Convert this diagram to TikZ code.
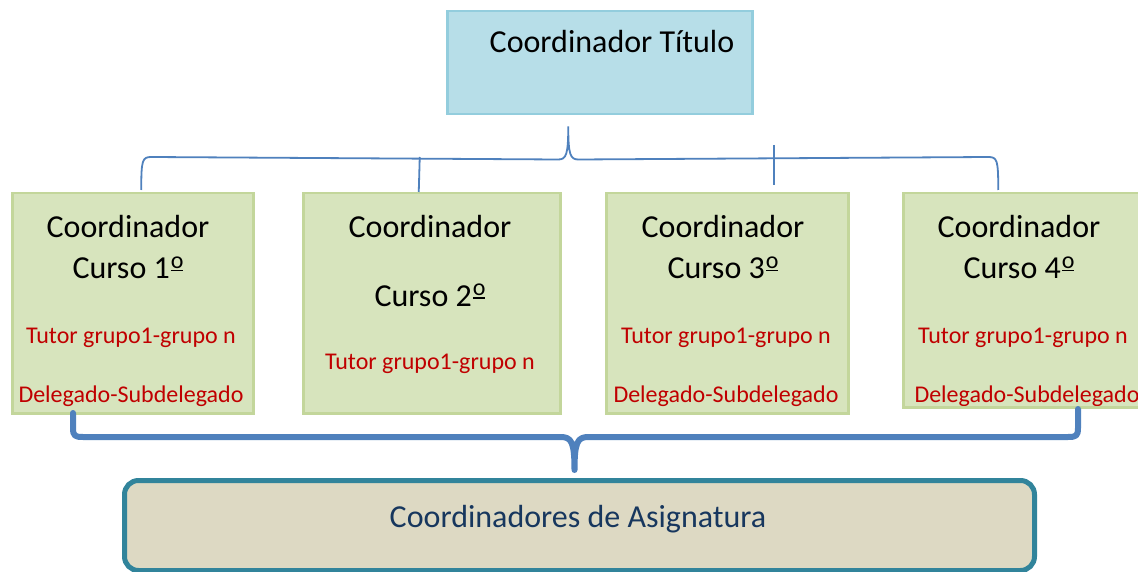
\documentclass[tikz,border=0pt]{standalone}
\usepackage{fontspec}
\setmainfont{Carlito}
\usetikzlibrary{calc}
\definecolor{titlefill}{HTML}{B7DEE8}
\definecolor{titledraw}{HTML}{93CDDD}
\definecolor{greenfill}{HTML}{D7E4BD}
\definecolor{greendraw}{HTML}{C3D69B}
\definecolor{redtxt}{HTML}{C00000}
\definecolor{bracecol}{HTML}{4F81BD}
\definecolor{bottomfill}{HTML}{DDD9C3}
\definecolor{bottomdraw}{HTML}{31849B}
\definecolor{bottomtxt}{HTML}{17375E}
\newcommand{\ordmark}{\kern1pt\makebox[0pt][l]{\rule[7.5pt]{12.6pt}{1.8pt}}\raisebox{10.5pt}{\fontsize{24}{24}\selectfont o}}
\tikzset{
  titlebox/.style={draw=titledraw, fill=titlefill, line width=2.5pt, inner sep=0pt, anchor=north west},
  cursobox/.style={draw=greendraw, fill=greenfill, line width=2.5pt, inner sep=0pt, anchor=north west},
  asigbox/.style={draw=bottomdraw, fill=bottomfill, line width=5pt, rounded corners=14pt, inner sep=0pt, anchor=north west},
  bigtxt/.style={font=\fontsize{32}{38}\selectfont, text=black, inner sep=0pt, anchor=base},
  redt/.style={font=\fontsize{24}{28}\selectfont, text=redtxt, inner sep=0pt, anchor=base},
  asigtxt/.style={font=\fontsize{32}{38}\selectfont, text=bottomtxt, inner sep=0pt, anchor=base},
  thinbrace/.style={draw=bracecol, line width=1.8pt},
  thickbrace/.style={draw=bracecol, line width=6pt, line cap=round, line join=round},
}
\begin{document}
\begin{tikzpicture}[x=1pt,y=-1pt]
\useasboundingbox (0,0) rectangle (1138,572);
\fill[white] (0,0) rectangle (1138,572);

% title
\node[titlebox, minimum width=305pt, minimum height=103pt] (title) at (446,10) {};
\node[bigtxt] (titletxt) at (612,53) {Coordinador Título};

% course boxes
\node[cursobox, minimum width=241pt, minimum height=220pt] (c1) at (11,192) {};
\node[cursobox, minimum width=257pt, minimum height=220pt] (c2) at (302,192) {};
\node[cursobox, minimum width=242pt, minimum height=220pt] (c3) at (605,192) {};
\node[cursobox, minimum width=238pt, minimum height=214pt] (c4) at (902,192) {};

% box 1 text
\node[bigtxt] (c1a) at (128,237) {Coordinador};
\node[bigtxt] (c1b) at (128,279) {Curso 1\ordmark};
\node[redt] (c1c) at (131,343) {Tutor grupo1-grupo n};
\node[redt] (c1d) at (131,402) {Delegado-Subdelegado};

% box 2 text
\node[bigtxt] (c2a) at (430,237) {Coordinador};
\node[bigtxt] (c2b) at (430,306) {Curso 2\ordmark};
\node[redt] (c2c) at (430,369) {Tutor grupo1-grupo n};

% box 3 text
\node[bigtxt] (c3a) at (723,237) {Coordinador};
\node[bigtxt] (c3b) at (723,279) {Curso 3\ordmark};
\node[redt] (c3c) at (726,343) {Tutor grupo1-grupo n};
\node[redt] (c3d) at (726,402) {Delegado-Subdelegado};

% box 4 text
\node[bigtxt] (c4a) at (1019,237) {Coordinador};
\node[bigtxt] (c4b) at (1019,279) {Curso 4\ordmark};
\node[redt] (c4c) at (1023,343) {Tutor grupo1-grupo n};
\begin{scope}
\clip (902,192) rectangle (1138,405);
\node[redt] (c4d) at (1027,402) {Delegado-Subdelegado};
\end{scope}

% bottom box
\node[asigbox, minimum width=910pt, minimum height=90pt] (asig) at (122,478) {};
\node[asigtxt] (asigt) at (578,527) {Coordinadores de Asignatura};

% top brace
\coordinate (tb1) at ($(c1.north)+(8.5,-2)$);
\coordinate (tb4) at ($(c4.north)+(-24,-2)$);
\coordinate (tpk) at ($(title.south)+(-31.5,11)$);
\draw[thinbrace] (tb1) .. controls ($(tb1)+(0,-30)$) and ($(tb1)+(1,-33)$) .. ($(tb1)+(10,-33)$)
  -- ($(tpk)+(-10,33)$) .. controls ($(tpk)+(-2,33)$) and ($(tpk)+(0,28)$) .. (tpk)
  .. controls ($(tpk)+(0,28)$) and ($(tpk)+(2,33)$) .. ($(tpk)+(10,33)$)
  -- ($(tb4)+(-10,-33)$) .. controls ($(tb4)+(-1,-33)$) and ($(tb4)+(0,-30)$) .. (tb4);
\draw[thinbrace] ($(c2.north)+(-12,-35)$) -- ($(c2.north)+(-13,0)$);
\draw[thinbrace] ($(c3.north)+(47,-47)$) -- ($(c3.north)+(47,-7)$);

% bottom brace
\coordinate (bb1) at (73,413);
\coordinate (bb4) at (1078,409);
\coordinate (bpk) at ($(asig.north)+(-5,-8)$);
\draw[thickbrace] (bb1) -- (73,428) .. controls (73,436) and (75,437) .. (83,437)
  -- ($(bpk)+(-14,-33)$) .. controls ($(bpk)+(-3,-33)$) and ($(bpk)+(0,-28)$) .. (bpk)
  .. controls ($(bpk)+(0,-28)$) and ($(bpk)+(3,-33)$) .. ($(bpk)+(14,-33)$)
  -- (1068,437) .. controls (1076,437) and (1078,436) .. (1078,428) -- (bb4);
\end{tikzpicture}
\end{document}
